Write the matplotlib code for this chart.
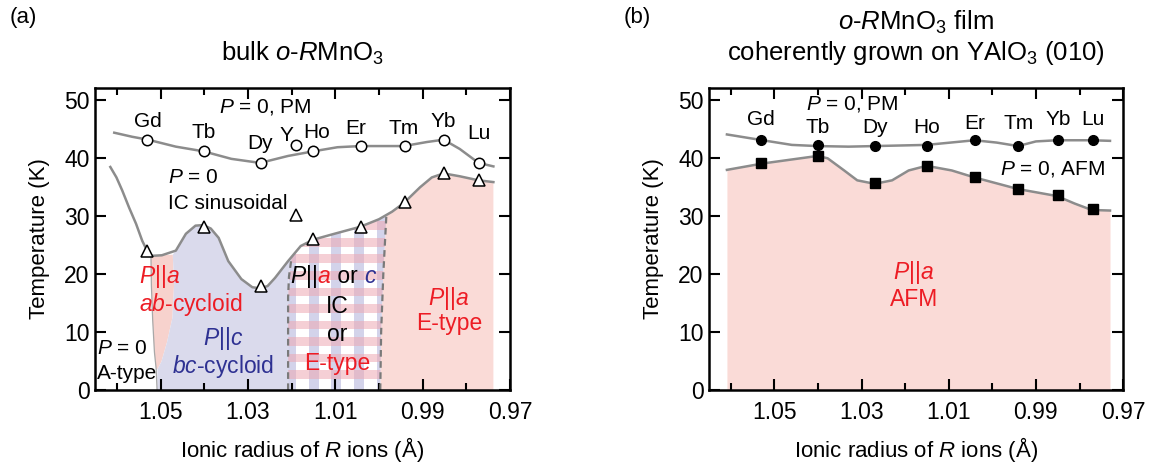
import numpy as np
import matplotlib
matplotlib.use("Agg")
import matplotlib.pyplot as plt
from matplotlib.patches import Polygon
from matplotlib.offsetbox import TextArea, HPacker, AnnotationBbox

plt.rcParams["font.family"] = ["Liberation Sans", "DejaVu Sans"]
plt.rcParams["mathtext.fontset"] = "custom"
plt.rcParams["mathtext.rm"] = "Liberation Sans"
plt.rcParams["mathtext.it"] = "Liberation Sans:italic"
plt.rcParams["mathtext.bf"] = "Liberation Sans:bold"

# ---------------------------------------------------------------------------
# Data
# ---------------------------------------------------------------------------
bulk_elem = ["Gd", "Tb", "Dy", "Y", "Ho", "Er", "Tm", "Yb", "Lu"]
bulk_r = [1.053, 1.040, 1.027, 1.019, 1.015, 1.004, 0.994, 0.985, 0.977]
bulk_tn = [43.1, 41.1, 39.1, 42.2, 41.1, 42.0, 42.0, 43.1, 39.1]      # PM -> IC
bulk_tlock = [24.0, 28.1, 17.9, 30.2, 26.0, 28.1, 32.3, 37.3, 36.1]   # IC -> ordered

film_elem = ["Gd", "Tb", "Dy", "Ho", "Er", "Tm", "Yb", "Lu"]
film_r = [1.053, 1.040, 1.027, 1.015, 1.004, 0.994, 0.985, 0.977]
film_tn = [43.0, 42.2, 42.0, 42.0, 43.0, 42.0, 43.0, 43.0]
film_tc = [39.0, 40.3, 35.6, 38.6, 36.6, 34.6, 33.6, 31.1]

# guide-to-the-eye boundaries, bulk
pm_x = [1.0606, 1.0565, 1.0529, 1.0465, 1.0402, 1.0338, 1.0272, 1.0208, 1.0150,
        1.0095, 1.0043, 0.9943, 0.9890, 0.9852, 0.9815, 0.9772, 0.9738]
pm_t = [44.3, 43.6, 43.1, 41.9, 41.1, 39.8, 39.1, 40.3, 41.1,
        41.8, 42.0, 42.0, 42.7, 43.1, 41.5, 39.1, 38.5]

ic_x = [1.0615, 1.0601, 1.0588, 1.0572, 1.0556, 1.0542, 1.0531, 1.0520, 1.0497,
        1.0465, 1.0442, 1.0420, 1.0402, 1.0385, 1.0367, 1.0345, 1.0315, 1.0290,
        1.0272, 1.0255, 1.0238, 1.0208, 1.0179, 1.0150, 1.0102, 1.0043, 1.0000,
        0.9970, 0.9943, 0.9906, 0.9879, 0.9852, 0.9815, 0.9772, 0.9738]
ic_t = [38.4, 36.6, 34.4, 31.4, 28.6, 25.7, 24.0, 23.1, 23.2,
        24.0, 26.9, 28.3, 28.4, 27.8, 26.2, 22.2, 19.1, 17.7,
        17.5, 17.9, 19.3, 22.2, 24.8, 25.9, 26.9, 28.1, 29.4,
        30.7, 32.2, 34.9, 36.6, 37.3, 36.8, 36.1, 35.8]

atype_x = [1.0522, 1.0521, 1.0518, 1.0514, 1.0510, 1.0508]   # A-type | ab-cycloid
atype_t = [23.1, 18.0, 12.0, 6.5, 3.6, 0.0]
abc_x = [1.0472, 1.0469, 1.0473, 1.0485, 1.0498, 1.0507, 1.0508]  # ab | bc
abc_t = [23.3, 18.2, 12.4, 8.3, 4.9, 3.6, 0.0]
dash1_x = [1.0208, 1.0208, 1.0206, 1.0200]
dash1_t = [0.0, 16.0, 19.5, 22.9]
dash2_x = [0.9997, 0.9995, 0.9990, 0.9983]
dash2_t = [0.0, 10.0, 20.0, 30.1]

# guide-to-the-eye boundaries, film
fpm_x = [1.0609, 1.0527, 1.0460, 1.0401, 1.0330, 1.0270, 1.0151, 1.0041,
         0.9990, 0.9941, 0.9900, 0.9852, 0.9772, 0.9730]
fpm_t = [44.0, 43.0, 42.2, 42.0, 41.9, 42.0, 42.2, 43.0,
         42.6, 42.0, 42.8, 43.0, 43.0, 42.9]
fafm_x = [1.0609, 1.0527, 1.0401, 1.0378, 1.0340, 1.0310, 1.0270, 1.0230, 1.0192,
          1.0151, 1.0093, 1.0041, 0.9941, 0.9852, 0.9811, 0.9772, 0.9730]
fafm_t = [37.9, 39.0, 40.3, 39.9, 37.8, 36.1, 35.5, 36.1, 37.8,
          38.6, 37.8, 36.6, 34.6, 33.4, 32.1, 31.0, 30.9]

# ---------------------------------------------------------------------------
# Styles
# ---------------------------------------------------------------------------
RED = "#ED1C24"
BLUE = "#2E3192"
PINK = "#FADBD7"
PINK2 = "#F7D2CD"
LAV = "#DADAEC"
LAV_STRIPE = "#D3D3EA"
PINK_STRIPE = (0.93, 0.66, 0.70, 0.55)
GRAY = "#8C8C8C"
FS_TICK = 16.5
FS_LAB = 16
FS_TITLE = 18.5
FS_EL = 15
FS_PH = 16.5

fig = plt.figure(figsize=(11.52, 4.69), dpi=100)
ax1 = fig.add_axes([0.0825, 0.1684, 0.3602, 0.644])
ax2 = fig.add_axes([0.6155, 0.1684, 0.3594, 0.644])


def setup(ax):
    ax.set_xlim(1.065, 0.9705)
    ax.set_ylim(0, 52)
    ax.set_xticks([1.05, 1.03, 1.01, 0.99, 0.97])
    ax.set_xticklabels(["1.05", "1.03", "1.01", "0.99", "0.97"])
    ax.set_xticks([1.06, 1.04, 1.02, 1.00, 0.98], minor=True)
    ax.set_yticks([0, 10, 20, 30, 40, 50])
    ax.tick_params(which="both", direction="in", top=True, right=True,
                   labelsize=FS_TICK, width=1.5)
    ax.tick_params(which="major", length=8)
    ax.tick_params(which="minor", length=5)
    ax.tick_params(axis="x", pad=8)
    ax.tick_params(axis="y", pad=4)
    for s in ax.spines.values():
        s.set_linewidth(1.8)
    ax.set_xlabel("Ionic radius of $\\it{R}$ ions (Å)", fontsize=FS_LAB, labelpad=8)
    ax.set_ylabel("Temperature (K)", fontsize=FS_LAB, labelpad=10)


def ic_between(xhi, xlo):
    return [(x, t) for x, t in zip(ic_x, ic_t) if xlo < x < xhi]


setup(ax1)
setup(ax2)

# ---- (a) bulk: phase regions ----------------------------------------------
sliver = list(zip(atype_x[:-1], atype_t[:-1])) + list(zip(abc_x[:-1], abc_t[:-1]))[::-1]
ax1.add_patch(Polygon(sliver, closed=True, fc=PINK2, ec="none", zorder=1))

bc = (list(zip(abc_x, abc_t)) + list(zip(dash1_x, dash1_t))
      + ic_between(abc_x[0], dash1_x[-1])[::-1])
ax1.add_patch(Polygon(bc, closed=True, fc=LAV, ec="none", zorder=1))

chk_verts = (list(zip(dash1_x, dash1_t)) + ic_between(dash1_x[-1], dash2_x[-1])
             + list(zip(dash2_x, dash2_t))[::-1])
chk = Polygon(chk_verts, closed=True, fc="white", ec="none", zorder=1)
ax1.add_patch(chk)
for x0 in np.arange(1.0213, 0.998, -0.0052):
    sp = ax1.axvspan(x0, x0 - 0.0023, color=LAV_STRIPE, lw=0, zorder=1.1)
    sp.set_clip_path(chk)
for y0 in np.arange(1.9, 32, 2.85):
    sp = ax1.axhspan(y0, y0 + 1.5, color=PINK_STRIPE, lw=0, zorder=1.2)
    sp.set_clip_path(chk)

etype = (list(zip(dash2_x, dash2_t)) + ic_between(dash2_x[-1], 0.0)
         + [(ic_x[-1], 0.0)])
ax1.add_patch(Polygon(etype, closed=True, fc=PINK, ec="none", zorder=1))

ax1.plot(atype_x, atype_t, color="#A8A8A8", lw=0.9, zorder=2)
ax1.plot(dash1_x, dash1_t, color="#7A7A7A", lw=1.6, ls=(0, (3, 2)), zorder=2)
ax1.plot(dash2_x, dash2_t, color="#7A7A7A", lw=1.6, ls=(0, (3, 2)), zorder=2)
ax1.plot(pm_x, pm_t, color=GRAY, lw=1.8, zorder=3)
ax1.plot(ic_x, ic_t, color=GRAY, lw=1.8, zorder=3)
ax1.plot(bulk_r, bulk_tn, "o", ms=7.5, mfc="white", mec="black", mew=1.1,
         ls="none", zorder=4)
ax1.plot(bulk_r, bulk_tlock, "^", ms=8.5, mfc="white", mec="black", mew=1.1,
         ls="none", zorder=4)

bulk_label_xy = [(1.0529, 46.2), (1.0402, 44.3), (1.0272, 42.5), (1.0212, 43.9),
                 (1.0143, 44.3), (1.0053, 45.1), (0.9944, 45.1), (0.9854, 46.2),
                 (0.9772, 44.1)]
for name, (x, y) in zip(bulk_elem, bulk_label_xy):
    ax1.text(x, y, name, fontsize=FS_EL, ha="center", va="center", zorder=5)

kw = dict(fontsize=FS_PH, va="center", zorder=5)
ax1.text(1.026, 48.8, "$\\it{P}$ = 0, PM", ha="center", fontsize=FS_EL, va="center")
ax1.text(1.0483, 36.6, "$\\it{P}$ = 0", ha="left", fontsize=FS_EL, va="center")
ax1.text(1.0483, 32.1, "IC sinusoidal", ha="left", fontsize=FS_EL, va="center")
ax1.text(1.0549, 19.6, "$\\it{P}$||$\\it{a}$", ha="left", color=RED, **kw)
ax1.text(1.0549, 14.7, "$\\it{ab}$-cycloid", ha="left", color=RED, **kw)
ax1.text(1.0356, 8.9, "$\\it{P}$||$\\it{c}$", ha="center", color=BLUE, **kw)
ax1.text(1.0356, 4.0, "$\\it{bc}$-cycloid", ha="center", color=BLUE, **kw)
ax1.text(1.0646, 7.2, "$\\it{P}$ = 0", ha="left", fontsize=FS_EL, va="center", zorder=5)
ax1.text(1.0646, 2.8, "A-type", ha="left", fontsize=FS_EL, va="center", zorder=5)
ax1.text(1.0095, 14.4, "IC", ha="center", **kw)
ax1.text(1.0095, 9.5, "or", ha="center", **kw)
ax1.text(1.0095, 4.5, "E-type", ha="center", color=RED, **kw)
ax1.text(0.9840, 15.8, "$\\it{P}$||$\\it{a}$", ha="center", color=RED, **kw)
ax1.text(0.9840, 11.5, "E-type", ha="center", color=RED, **kw)

segs = [("$\\it{P}$||", "black"), ("$\\it{a}$", RED), (" or ", "black"), ("$\\it{c}$", BLUE)]
areas = [TextArea(s, textprops=dict(color=c, fontsize=FS_PH)) for s, c in segs]
pack = HPacker(children=areas, align="baseline", pad=0, sep=0)
ab = AnnotationBbox(pack, (1.0103, 19.6), frameon=False, box_alignment=(0.5, 0.5),
                    zorder=5)
ax1.add_artist(ab)

# ---- (b) film ---------------------------------------------------------------
ax2.fill_between(fafm_x, 0, fafm_t, color=PINK, lw=0, zorder=1)
ax2.plot(fpm_x, fpm_t, color=GRAY, lw=1.8, zorder=3)
ax2.plot(fafm_x, fafm_t, color=GRAY, lw=1.8, zorder=3)
ax2.plot(film_r, film_tn, "o", ms=7, color="black", ls="none", zorder=4)
ax2.plot(film_r, film_tc, "s", ms=7, color="black", ls="none", zorder=4)

film_label_y = [46.6, 45.2, 45.2, 45.2, 45.9, 45.9, 46.6, 46.6]
for name, x, y in zip(film_elem, film_r, film_label_y):
    ax2.text(x, y, name, fontsize=FS_EL, ha="center", va="center", zorder=5)
ax2.text(1.0321, 49.2, "$\\it{P}$ = 0, PM", ha="center", va="center", fontsize=FS_EL)
ax2.text(0.9741, 38.1, "$\\it{P}$ = 0, AFM", ha="right", va="center", fontsize=FS_EL)
ax2.text(1.018, 20.2, "$\\it{P}$||$\\it{a}$", ha="center", color=RED, **kw)
ax2.text(1.018, 15.6, "AFM", ha="center", color=RED, **kw)

# ---- titles and panel letters ---------------------------------------------
ax1.text(0.5, 1.068, "bulk $\\it{o}$-$\\it{R}$MnO$_3$", transform=ax1.transAxes,
         ha="center", va="bottom", fontsize=FS_TITLE)
ax2.text(0.5, 1.07, "$\\it{o}$-$\\it{R}$MnO$_3$ film\ncoherently grown on YAlO$_3$ (010)",
         transform=ax2.transAxes, ha="center", va="bottom", fontsize=FS_TITLE,
         linespacing=1.12)
fig.text(0.0087, 0.962, "(a)", fontsize=FS_LAB, ha="left", va="center")
fig.text(0.5417, 0.962, "(b)", fontsize=FS_LAB, ha="left", va="center")

fig.savefig("out.png", dpi=100)
